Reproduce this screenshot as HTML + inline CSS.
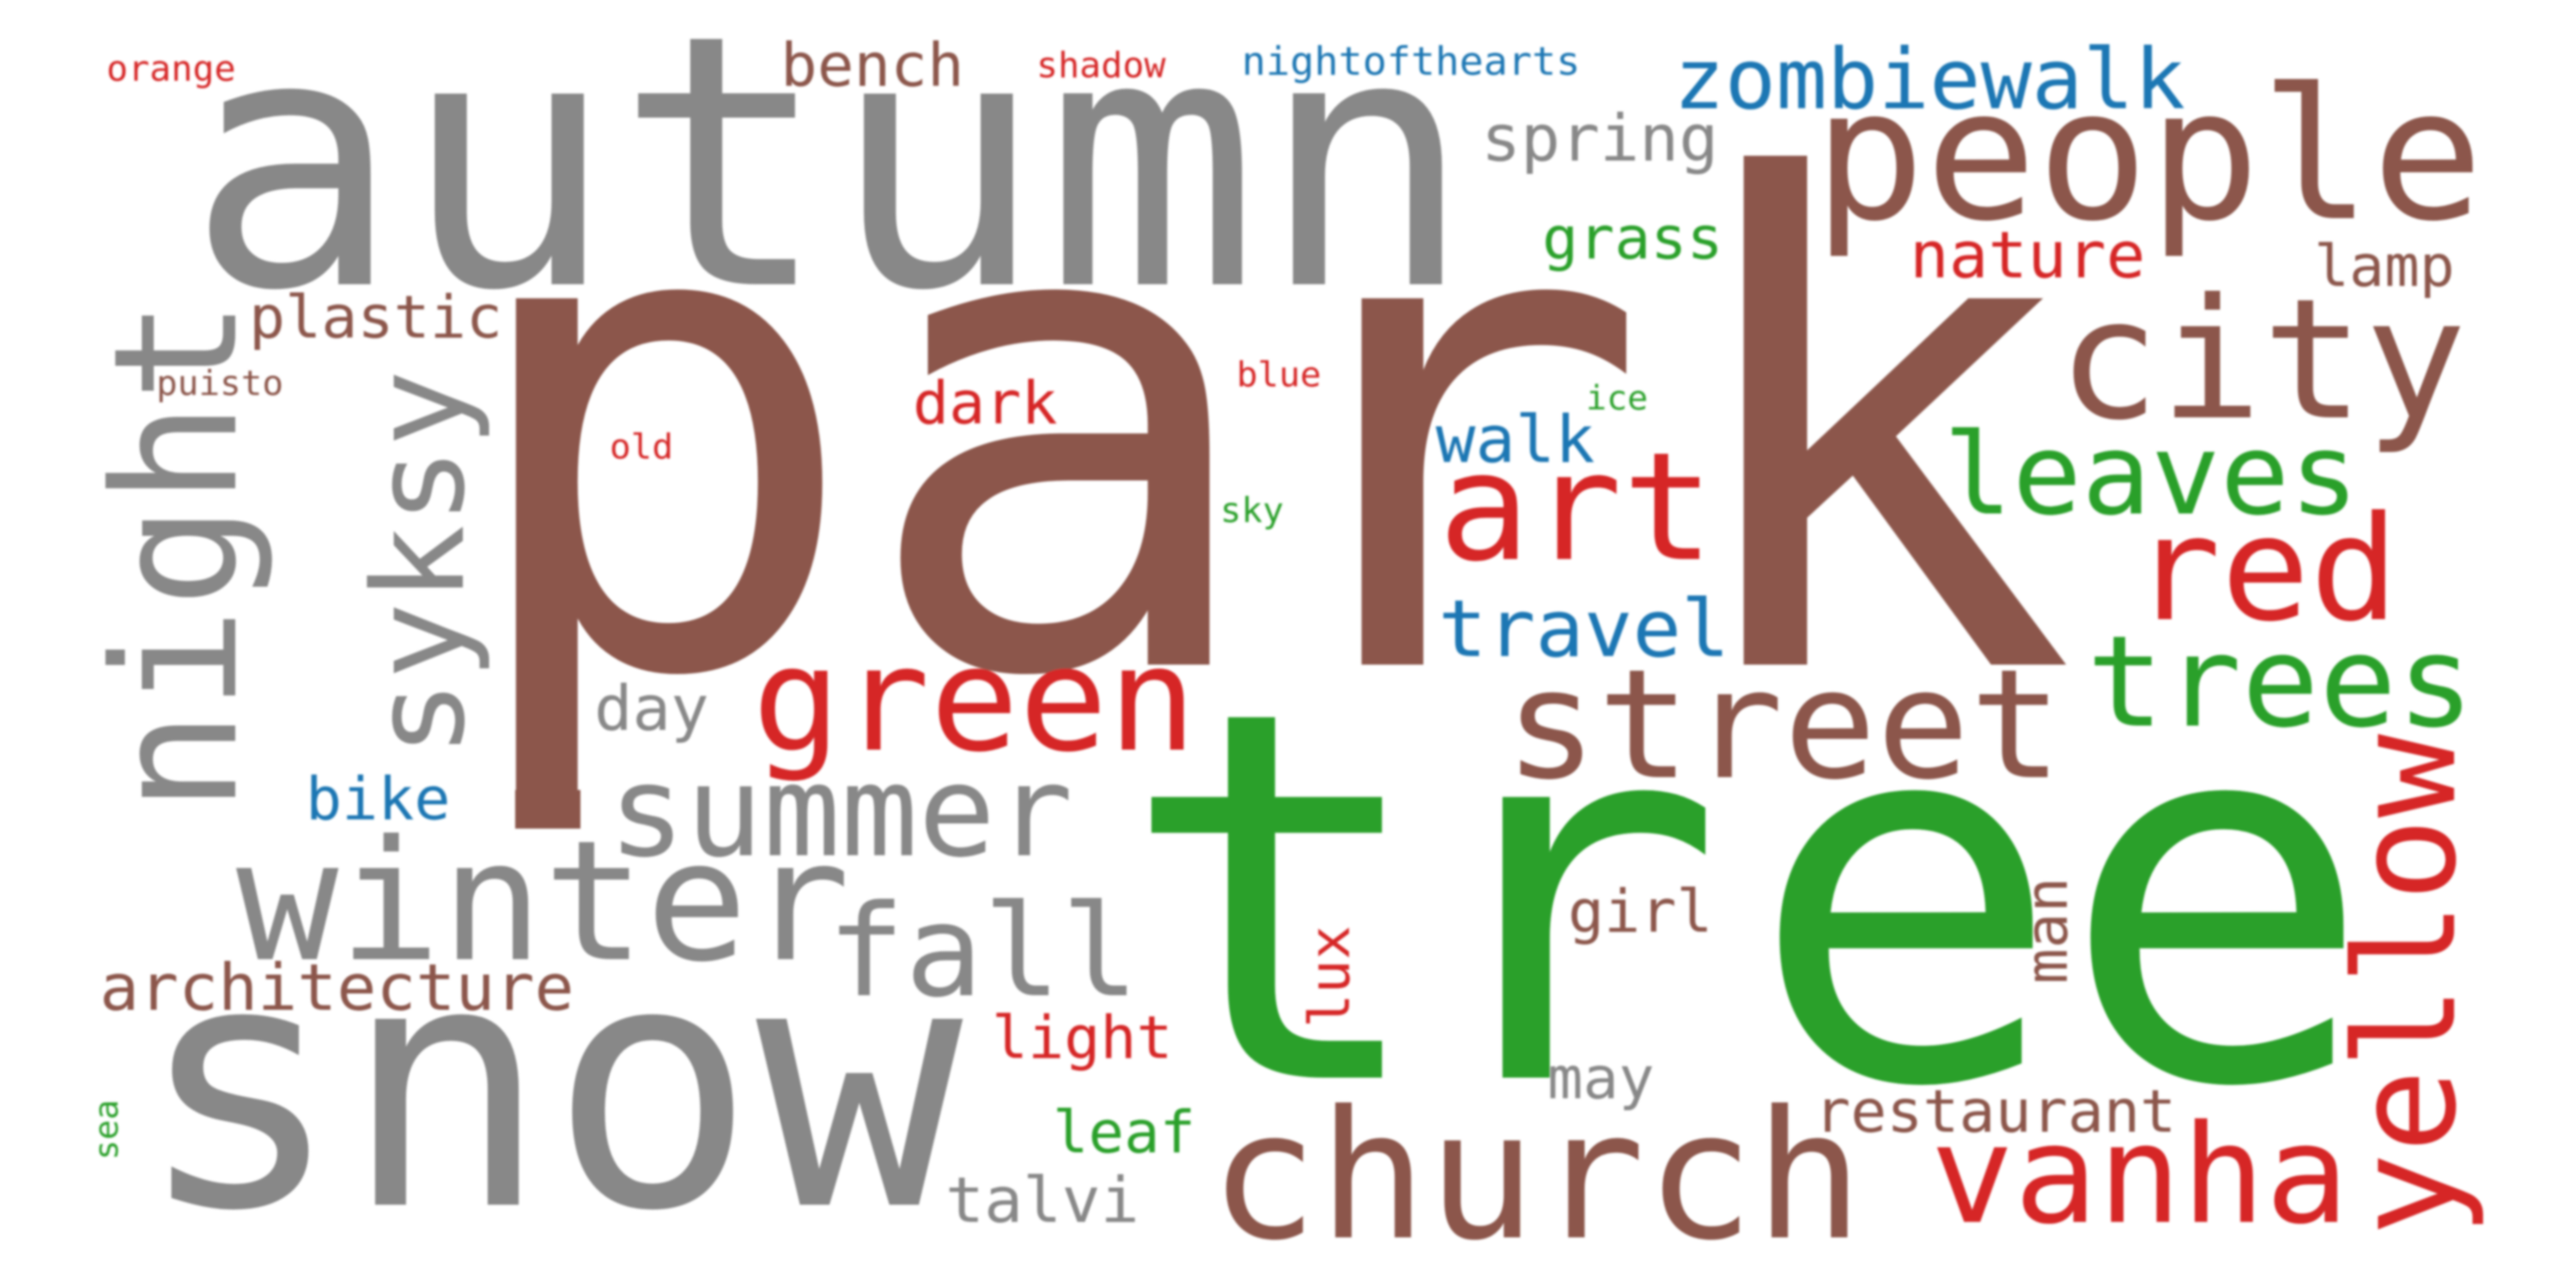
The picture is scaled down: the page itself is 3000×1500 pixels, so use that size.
<!DOCTYPE html>
<html lang="en">
<head>
<meta charset="utf-8">
<title>Word cloud</title>
<style>
html,body{margin:0;padding:0;background:#fff;width:3000px;height:1500px;overflow:hidden}
svg{display:block}
text{font-family:"DejaVu Sans Mono","Liberation Mono",monospace;white-space:pre}
.g{fill:#888888}.b{fill:#8c564b}.r{fill:#d62728}.n{fill:#2ca02c}.u{fill:#1f77b4}
</style>
</head>
<body>
<svg xmlns="http://www.w3.org/2000/svg" width="3000" height="1500" viewBox="0 0 3000 1500">
<defs><filter id="soft" x="-5%" y="-5%" width="110%" height="110%"><feGaussianBlur stdDeviation="1.2"/></filter></defs>
<rect width="3000" height="1500" fill="#ffffff"/>
<g filter="url(#soft)">
<text class="b" font-size="796" x="0 470 918 1412" transform="translate(527 774) scale(1 .98)">park</text>
<rect class="b" x="600" y="920" width="76" height="45"/>
<text class="n" font-size="610" x="0 340 734 1096" transform="translate(1302 1255) scale(1 .98)">tree</text>
<text class="g" font-size="415" transform="translate(217 331) scale(1 .98)">autumn</text>
<text class="g" font-size="400" transform="translate(158 1403) scale(1 .99)">snow</text>
<text class="g" font-size="199" transform="translate(274 947) rotate(-90) scale(1 1)">night</text>
<text class="g" font-size="150" transform="translate(539 882) rotate(-90) scale(1 .98)">syksy</text>
<text class="b" font-size="216" transform="translate(2112 254) scale(1 .98)">people</text>
<text class="b" font-size="198" transform="translate(2396 486) scale(1 .98)">city</text>
<text class="u" font-size="99" transform="translate(1949 126) scale(1 .98)">zombiewalk</text>
<text class="r" font-size="76" transform="translate(2224 323) scale(1 .98)">nature</text>
<text class="b" font-size="68" transform="translate(2695 333) scale(1 .98)">lamp</text>
<text class="n" font-size="134" transform="translate(2263 598) scale(1 .98)">leaves</text>
<text class="r" font-size="172" transform="translate(2483 721) scale(1 .98)">red</text>
<text class="n" font-size="150" transform="translate(2430 845) scale(1 .98)">trees</text>
<text class="b" font-size="180" transform="translate(1752 905) scale(1 .98)">street</text>
<text class="r" font-size="178" transform="translate(1675 651) scale(1 .98)">art</text>
<text class="u" font-size="77" transform="translate(1672 538) scale(1 .98)">walk</text>
<text class="u" font-size="94" transform="translate(1675 764) scale(1 .98)">travel</text>
<text class="r" font-size="172" transform="translate(876 873) scale(1 .98)">green</text>
<text class="g" font-size="150" transform="translate(708 996) scale(1 .98)">summer</text>
<text class="g" font-size="198" transform="translate(275 1117) scale(1 .98)">winter</text>
<text class="g" font-size="151" transform="translate(963 1159) scale(1 .98)">fall</text>
<text class="b" font-size="76.5" transform="translate(116 1176) scale(1 .98)">architecture</text>
<text class="b" font-size="70" transform="translate(290 393) scale(1 .98)">plastic</text>
<text class="b" font-size="71" transform="translate(909 100) scale(1 .98)">bench</text>
<text class="g" font-size="76.5" transform="translate(1725 187) scale(1 .98)">spring</text>
<text class="n" font-size="70" transform="translate(1796 301) scale(1 .98)">grass</text>
<text class="r" font-size="41.7" transform="translate(124 94) scale(1 .98)">orange</text>
<text class="r" font-size="41.7" transform="translate(1207 90) scale(1 .98)">shadow</text>
<text class="u" font-size="46.8" transform="translate(1446 87) scale(1 .98)">nightofthearts</text>
<text class="b" font-size="41" transform="translate(182 460) scale(1 .98)">puisto</text>
<text class="r" font-size="41" transform="translate(710 534) scale(1 .98)">old</text>
<text class="r" font-size="41" transform="translate(1440 450) scale(1 .98)">blue</text>
<text class="r" font-size="70" transform="translate(1063 493) scale(1 .98)">dark</text>
<text class="n" font-size="40" transform="translate(1847 477) scale(1 .98)">ice</text>
<text class="n" font-size="41" transform="translate(1421 608) scale(1 .98)">sky</text>
<text class="g" font-size="74" transform="translate(692 850) scale(1 .98)">day</text>
<text class="u" font-size="70" transform="translate(356 954) scale(1 .98)">bike</text>
<text class="r" font-size="70" transform="translate(1155 1232) scale(1 .98)">light</text>
<text class="n" font-size="69" transform="translate(1226 1342) scale(1 .98)">leaf</text>
<text class="g" font-size="75" transform="translate(1101 1423) scale(1 .98)">talvi</text>
<text class="b" font-size="211" transform="translate(1408 1441) scale(1 .98)">church</text>
<text class="b" font-size="70" transform="translate(1826 1085) scale(1 .98)">girl</text>
<text class="g" font-size="69" transform="translate(1802 1279) scale(1 .98)">may</text>
<text class="b" font-size="70" transform="translate(2113 1318) scale(1 .98)">restaurant</text>
<text class="r" font-size="162" transform="translate(2248 1423) scale(1 .98)">vanha</text>
<text class="r" font-size="66" transform="translate(1571 1197) rotate(-90) scale(1 .98)">lux</text>
<text class="b" font-size="69" transform="translate(2407 1146) rotate(-90) scale(1 .98)">man</text>
<text class="r" font-size="162" transform="translate(2858 1440) rotate(-90) scale(1 1)">yellow</text>
<text class="n" font-size="39" transform="translate(137 1351) rotate(-90) scale(1 .98)">sea</text>
</g>
</svg>
</body>
</html>
